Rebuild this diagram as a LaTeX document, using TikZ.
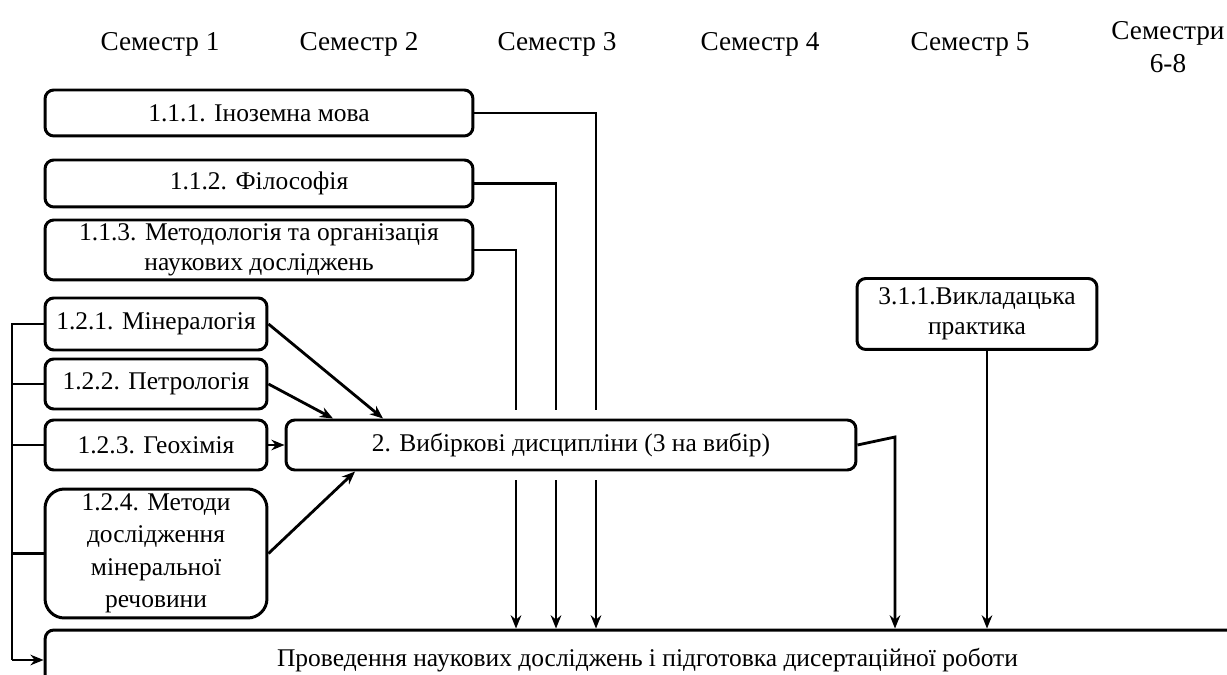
\documentclass[tikz,border=0pt]{standalone}
\usepackage{fontspec}
\setmainfont{Liberation Serif}
\usetikzlibrary{arrows.meta}

\begin{document}
\begin{tikzpicture}[x=0.02cm,y=-0.02cm]
\useasboundingbox (0,0) rectangle (1227,675);

\begin{scope}[every node/.style={font=\fontsize{15.5}{18.5}\selectfont,align=center}]
    \node (S1) at (160,44) {Семестр 1};
    \node (S2) at (359,44) {Семестр 2};
    \node (S3) at (557,44) {Семестр 3};
    \node (S4) at (760,44) {Семестр 4};
    \node (S5) at (970,44) {Семестр 5};
    \node (S68) at (1168,47) {Семестри\\6-8};
\end{scope}

\begin{scope}[every node/.style={draw,line width=1.7pt,rounded corners=5pt,align=center,inner sep=1pt,font=\fontsize{14.5}{17}\selectfont}]
    \node[minimum width=8.56cm,minimum height=0.92cm] (M111) at (259,113) {1.1.1. Іноземна мова};
    \node[minimum width=8.56cm,minimum height=0.94cm] (M112) at (259,183.5) {1.1.2. Філософія};
    \node[minimum width=8.56cm,minimum height=1.2cm] (M113) at (259,250) {1.1.3. Методологія та організація\\наукових досліджень};
    \node[minimum width=4.44cm,minimum height=1.04cm] (M121) at (156,324) {1.2.1. Мінералогія};
    \node[minimum width=4.44cm,minimum height=1cm] (M122) at (156,384) {1.2.2. Петрологія};
    \node[minimum width=4.44cm,minimum height=1cm] (M123) at (156,445) {1.2.3. Геохімія};
    \node[minimum width=4.44cm,minimum height=2.58cm,rounded corners=11pt,
          font=\fontsize{14.5}{18.5}\selectfont] (M124) at (156,553.5) {1.2.4. Методи\\дослідження\\мінеральної\\речовини};
    \node[minimum width=11.4cm,minimum height=1cm] (E2) at (571,445) {2. Вибіркові дисципліни (3 на вибір)};
    \node[minimum width=4.8cm,minimum height=1.42cm] (P311) at (977,314) {3.1.1.Викладацька\\практика};
    \node[minimum width=24.1cm,minimum height=1.2cm] (Main) at (647.5,660) {Проведення наукових досліджень і підготовка дисертаційної роботи};
\end{scope}

\begin{scope}[>={Stealth[length=7.5pt,width=6pt]},line width=1.6pt]
    % obligatory courses, passing behind the electives box
    \coordinate (G1) at (596,410); \coordinate (H1) at (596,480);
    \coordinate (G2) at (556,410); \coordinate (H2) at (556,480);
    \coordinate (G3) at (516,410); \coordinate (H3) at (516,480);
    \draw (M111.east) -| (G1);
    \draw (M112.east) -| (G2);
    \draw (M113.east) -| (G3);
    \draw[->] (H1) -- (H1 |- Main.north);
    \draw[->] (H2) -- (H2 |- Main.north);
    \draw[->] (H3) -- (H3 |- Main.north);

    % profile courses
    \path[->] (M121.east) edge ([xshift=-3.76cm]E2.north);
    \path[->] (M122.east) edge ([xshift=-4.76cm]E2.north);
    \path[->] (M123.east) edge (E2.west);
    \path[->] (M124.east) edge ([xshift=-4.32cm]E2.south);

    \coordinate (K2) at (895,437);
    \draw[->] (E2.east) -- (K2) -- (K2 |- Main.north);
    \draw[->] ([xshift=0.2cm]P311.south) -- ([xshift=0.2cm]P311.south |- Main.north);

    % left bus
    \coordinate (BT) at (12,324);
    \coordinate (BB) at (12,660);
    \draw (M121.west) -- (BT) -- (BB);
    \draw (M122.west) -- (M122.west -| BT);
    \draw (M123.west) -- (M123.west -| BT);
    \draw (M124.west) -- (M124.west -| BT);
    \draw[->] (BB) -- (Main.west);
\end{scope}
\end{tikzpicture}
\end{document}
